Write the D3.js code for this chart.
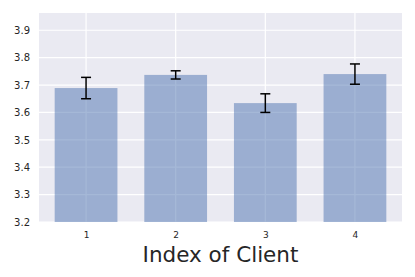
<!DOCTYPE html>
<html><head><meta charset="utf-8">
<script src="https://cdn.jsdelivr.net/npm/d3@7"></script>
<style>body{margin:0;background:#fff;}text{font-family:"DejaVu Sans",sans-serif;fill:#262626;}</style>
</head><body>
<svg id="c" width="415" height="277"></svg>
<script>
const categories = ["1","2","3","4"];
const values = [3.689, 3.737, 3.634, 3.740];
const errors = [0.039, 0.015, 0.034, 0.037];
const yTicks = [3.2,3.3,3.4,3.5,3.6,3.7,3.8,3.9];
const xLabel = "Index of Client";

const svg = d3.select("#c");
const m = {l:39, r:402, t:13, b:222};
const x = d3.scaleLinear().domain([-0.525, 3.525]).range([m.l, m.r]);
const y = d3.scaleLinear().domain([3.2, 3.963]).range([m.b, m.t]);
const bw = x(0.7) - x(0);

svg.append("rect").attr("x", m.l).attr("y", m.t).attr("width", m.r-m.l).attr("height", m.b-m.t).attr("fill","#eaeaf2");
// grid
svg.selectAll(".gy").data(yTicks).enter().append("line")
  .attr("x1", m.l).attr("x2", m.r).attr("y1", d=>y(d)).attr("y2", d=>y(d))
  .attr("stroke","#fff").attr("stroke-width",1.2);
svg.selectAll(".gx").data(categories).enter().append("line")
  .attr("x1",(d,i)=>x(i)).attr("x2",(d,i)=>x(i)).attr("y1",m.t).attr("y2",m.b)
  .attr("stroke","#fff").attr("stroke-width",1.2);
// bars
svg.selectAll(".bar").data(values).enter().append("rect")
  .attr("x",(d,i)=>x(i)-bw/2).attr("width",bw)
  .attr("y",d=>y(d)).attr("height",d=>y(3.2)-y(d))
  .attr("fill","#4c72b0").attr("fill-opacity",0.5);
// error bars
const eb = svg.selectAll(".eb").data(values).enter().append("g");
eb.append("line").attr("x1",(d,i)=>x(i)).attr("x2",(d,i)=>x(i))
  .attr("y1",(d,i)=>y(d+errors[i])).attr("y2",(d,i)=>y(d-errors[i]))
  .attr("stroke","#000").attr("stroke-width",1.5);
[1,-1].forEach(s=>{
  eb.append("line").attr("x1",(d,i)=>x(i)-5).attr("x2",(d,i)=>x(i)+5)
    .attr("y1",(d,i)=>y(d+s*errors[i])).attr("y2",(d,i)=>y(d+s*errors[i]))
    .attr("stroke","#000").attr("stroke-width",1.5);
});
// axes
const ya = d3.axisLeft(y).tickValues(yTicks).tickFormat(d3.format(".1f")).tickSize(0).tickPadding(9);
const yg = svg.append("g").attr("transform",`translate(${m.l},0)`).call(ya);
yg.select(".domain").remove();
yg.selectAll("text").attr("font-size",10).style("fill","#262626");
const xa = d3.axisBottom(x).tickValues([0,1,2,3]).tickFormat(i=>categories[i]).tickSize(0).tickPadding(10);
const xg = svg.append("g").attr("transform",`translate(0,${m.b})`).call(xa);
xg.select(".domain").remove();
xg.selectAll("text").attr("font-size",9).style("fill","#262626");
svg.append("text").attr("x",(m.l+m.r)/2).attr("y",262).attr("text-anchor","middle")
  .attr("font-size",21.5).text(xLabel);
</script>
</body></html>
